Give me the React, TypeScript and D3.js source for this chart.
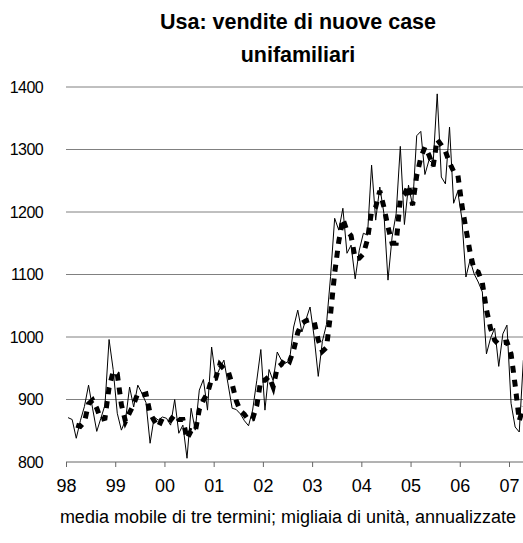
import { useEffect, useRef } from 'react';
import * as d3 from 'd3';

// monthly sales, Jan 1998 .. Apr 2007 (thousands, annualised)
const sales = [
  871, 868, 838, 866, 889, 923, 885, 849, 870, 891, 996, 948,
  878, 851, 867, 920, 888, 923, 910, 895, 830, 872, 867, 872,
  870, 859, 900, 846, 859, 806, 886, 851, 915, 932, 883, 984,
  935, 950, 963, 925, 886, 884, 877, 866, 858, 883, 930, 980,
  883, 948, 930, 976, 963, 958, 963, 1016, 1043, 1008, 1028, 1048,
  1000, 937, 993, 1020, 1097, 1190, 1171, 1206, 1134, 1147, 1093, 1139,
  1166, 1163, 1275, 1187, 1240, 1198, 1091, 1160, 1198, 1305, 1180, 1243,
  1210, 1322, 1329, 1260, 1283, 1277, 1389, 1256, 1245, 1336, 1214, 1233,
  1190, 1096, 1123, 1101, 1088, 1072, 973, 998, 1014, 953, 1005, 1019,
  894, 856, 848, 963,
];

// three-month moving average, same months (first two have none)
const movingAvg = [
  null, null, 859, 857, 864, 893, 899, 886, 868, 870, 919, 945,
  941, 892, 865, 879, 892, 910, 907, 909, 878, 866, 856, 870,
  870, 867, 876, 868, 868, 837, 850, 848, 884, 899, 910, 933,
  934, 956, 949, 946, 925, 898, 882, 876, 867, 869, 890, 931,
  931, 937, 920, 951, 956, 966, 961, 979, 1007, 1022, 1026, 1028,
  1025, 995, 977, 983, 1037, 1102, 1153, 1189, 1170, 1162, 1125, 1126,
  1133, 1156, 1201, 1208, 1234, 1208, 1176, 1150, 1150, 1221, 1228, 1243,
  1211, 1258, 1287, 1304, 1291, 1273, 1316, 1307, 1297, 1279, 1265, 1261,
  1212, 1173, 1136, 1107, 1104, 1087, 1044, 1014, 995, 988, 991, 992,
  973, 923, 866, 889,
];

const yearLabels = ['98', '99', '00', '01', '02', '03', '04', '05', '06', '07'];
const yTicks = [900, 1000, 1100, 1200, 1300, 1400];

const W = 523;
const H = 543;

export default function App() {
  const svgRef = useRef<SVGSVGElement>(null);

  useEffect(() => {
    const svg = d3.select(svgRef.current);
    svg.selectAll('*').remove();

    const font = "'Liberation Sans', Arial, sans-serif";
    const x = d3.scaleLinear().domain([0, 108]).range([66, 509]);
    const y = d3.scaleLinear().domain([800, 1400]).range([462, 87]);
    const right = W;

    svg.append('rect').attr('width', W).attr('height', H).attr('fill', 'white');

    // title
    const title = svg.append('text')
      .attr('text-anchor', 'middle')
      .attr('font-family', font)
      .attr('font-weight', 'bold')
      .attr('font-size', 21.5)
      .attr('fill', '#000');
    title.append('tspan').attr('x', 298).attr('y', 29).text('Usa: vendite di nuove case');
    title.append('tspan').attr('x', 298).attr('y', 62).text('unifamiliari');

    // gridlines + y labels
    svg.append('g')
      .selectAll('line')
      .data(yTicks)
      .join('line')
      .attr('x1', 66).attr('x2', right)
      .attr('y1', d => y(d)).attr('y2', d => y(d))
      .attr('stroke', '#808080').attr('stroke-width', 1);

    svg.append('g')
      .attr('font-family', font)
      .attr('font-size', 16)
      .attr('text-anchor', 'end')
      .selectAll('text')
      .data([800, ...yTicks])
      .join('text')
      .attr('x', 43)
      .attr('y', d => y(d))
      .attr('dy', '0.35em')
      .attr('letter-spacing', -0.6)
      .text(d => d);

    // x axis
    svg.append('line')
      .attr('x1', 66).attr('x2', right)
      .attr('y1', y(800)).attr('y2', y(800))
      .attr('stroke', '#666').attr('stroke-width', 1);

    const xAxis = d3.axisBottom(x)
      .tickValues(yearLabels.map((_, i) => i * 12))
      .tickSize(5)
      .tickPadding(12)
      .tickFormat((_, i) => yearLabels[i]);
    const gx = svg.append('g').attr('transform', `translate(0,${y(800)})`).call(xAxis);
    gx.select('.domain').remove();
    gx.selectAll('line').attr('stroke', '#666');
    gx.selectAll('text')
      .attr('font-family', font)
      .attr('font-size', 18)
      .attr('fill', '#000');

    const px = (i: number) => x(i + 0.5);

    // monthly data
    svg.append('path')
      .datum(sales)
      .attr('fill', 'none')
      .attr('stroke', '#000')
      .attr('stroke-width', 1)
      .attr('d', d3.line<number>().x((_, i) => px(i)).y(d => y(d)));

    // moving average
    svg.append('path')
      .datum(movingAvg)
      .attr('fill', 'none')
      .attr('stroke', '#000')
      .attr('stroke-width', 5)
      .attr('stroke-dasharray', '7,7')
      .attr('d', d3.line<number | null>()
        .defined(d => d != null)
        .x((_, i) => px(i))
        .y(d => y(d as number)));

    // footnote
    svg.append('text')
      .attr('x', 288)
      .attr('y', 523)
      .attr('text-anchor', 'middle')
      .attr('font-family', font)
      .attr('font-size', 18)
      .text('media mobile di tre termini; migliaia di unità, annualizzate');
  }, []);

  return (
    <svg
      ref={svgRef}
      width={W}
      height={H}
      style={{ position: 'absolute', left: 0, top: 0 }}
    />
  );
}
